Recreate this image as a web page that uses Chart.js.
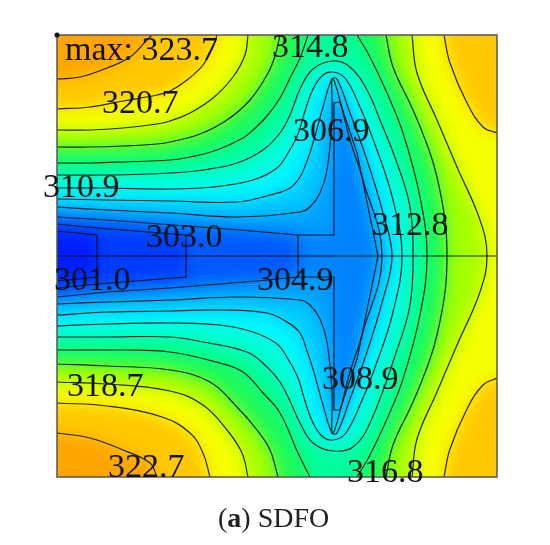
<!DOCTYPE html>
<html><head><meta charset="utf-8">
<style>html,body{margin:0;padding:0;background:#fff}canvas{display:block}</style>
<script src="https://cdn.jsdelivr.net/npm/chart.js@4/dist/chart.umd.min.js"></script>
</head><body><canvas id="c" width="550" height="545"></canvas>
<script>
// Temperature contour levels ([x, y] in plot units, centre line y=0)
const c3227ul=[[0,177],[23,179],[50,188],[73,199],[90,216],[95,221]];
const c3227ll=[[100,-221],[93,-207],[66,-194],[33,-182],[0,-177]];
const c3207ul=[[0,147],[33,149],[66,155],[100,161],[113,165],[130,176],[146,191],[156,209],[160,221]];
const c3207ur=[[387,221],[393,193],[410,153],[426,129],[440,123]];
const c3207lr=[[440,-122],[426,-129],[410,-153],[393,-193],[387,-221]];
const c3207ll=[[153,-221],[146,-197],[133,-177],[105,-161],[50,-150],[0,-147]];
const c3187ul=[[0,126],[33,126],[66,128],[100,132],[113,135],[133,143],[156,158],[176,179],[188,201],[191,221]];
const c3187r=[[355,221],[360,183],[380,136],[400,89],[423,36],[430,0],[423,-36],[400,-89],[380,-136],[360,-183],[355,-221]];
const c3187ll=[[191,-221],[185,-197],[170,-174],[146,-149],[113,-135],[50,-128],[0,-126]];
const c3168ul=[[0,109],[33,109],[66,110],[100,112],[113,114],[143,122],[170,136],[193,156],[210,181],[218,200],[223,221]];
const c3168r=[[329,221],[336,189],[356,146],[372,106],[380,79],[388,36],[390,0],[388,-36],[380,-79],[372,-106],[356,-146],[336,-189],[329,-221]];
const c3168ll=[[221,-221],[213,-194],[200,-174],[180,-151],[153,-126],[113,-114],[50,-110],[0,-108]];
const c3148ul=[[0,93],[33,93],[66,94],[113,96],[133,99],[160,106],[186,118],[196,126],[210,140],[223,158],[233,178],[243,198],[251,221]];
const c3148r=[[300,221],[313,199],[330,163],[346,123],[363,59],[370,0],[363,-59],[346,-123],[330,-163],[313,-199],[300,-221]];
const c3148ll=[[253,-221],[241,-197],[223,-157],[206,-137],[186,-116],[163,-107],[113,-96],[66,-94],[0,-94]];
const c3128=[[0,81],[50,81],[113,83],[146,86],[180,93],[206,106],[223,123],[233,141],[243,167],[256,187],[276,195],[293,189],[310,166],[323,136],[340,93],[353,49],[356,0],[353,-49],[340,-94],[313,-167],[296,-191],[276,-195],[256,-187],[243,-167],[233,-145],[223,-126],[210,-111],[190,-96],[146,-86],[113,-81],[50,-81],[0,-81]];
const c3109=[[0,68],[50,68],[113,67],[156,69],[196,76],[220,88],[231,103],[241,122],[248,145],[256,167],[266,181],[276,184],[288,178],[303,149],[320,106],[336,56],[345,0],[336,-56],[320,-106],[303,-149],[288,-178],[276,-184],[266,-181],[256,-167],[248,-145],[241,-122],[231,-103],[220,-88],[196,-76],[163,-69],[113,-67],[50,-68],[0,-70]];
const c3089=[[0,57],[50,56],[113,55],[180,54],[213,61],[233,68],[243,79],[250,95],[256,113],[266,149],[275,177],[280,177],[293,143],[310,96],[326,43],[335,0],[326,-43],[310,-96],[293,-143],[280,-177],[275,-177],[266,-149],[256,-113],[250,-95],[243,-77],[230,-66],[210,-57],[163,-54],[113,-55],[50,-56],[0,-59]];
const c3069=[[0,49],[50,46],[113,43],[180,39],[243,44],[253,49],[263,63],[270,86],[275,136],[276,177],[293,116],[306,76],[325,0],[306,-76],[293,-116],[276,-177],[275,-136],[270,-86],[263,-63],[253,-49],[243,-44],[180,-41],[113,-44],[50,-46],[0,-48]];
const c3049=[[0,39],[50,36],[116,31],[183,26],[240,21],[277,21],[277,153],[283,154],[300,103],[321,0],[300,-103],[283,-154],[277,-154],[277,-21],[240,-21],[200,-25],[113,-32],[50,-36],[0,-41]];
const c3040=[[0,39],[50,36],[116,31],[183,26],[241,21],[241,-21],[200,-25],[113,-32],[50,-36],[0,-41]];
const c3030=[[0,32],[40,28],[129,21],[129,-21],[40,-28],[0,-32]];
const c3010=[[0,25],[40,21],[40,-21],[0,-25]];
const frameBox=[[0,221],[440,221],[440,-221],[0,-221],[0,221]];
const rightCorners=[[440,221],[440,-221]];
const meshCentre=[[0,0],[440,0]];
const meshStep=[[241,21],[241,-21]];
const cornerDot=[[0,221]];

// Band colours: fill of the region colder than each level
const cOuter='rgb(255,165,0)';
const bandColours={b3227:'rgb(255,200,0)',b3207:'rgb(245,255,0)',b3187:'rgb(165,255,0)',b3168:'rgb(30,250,90)',b3148:'rgb(0,255,155)',b3128:'rgb(0,255,215)',b3109:'rgb(0,245,255)',b3089:'rgb(0,200,255)',b3069:'rgb(0,160,255)',b3049:'rgb(0,130,255)',b3040:'rgb(0,90,255)',b3030:'rgb(0,60,255)',b3010:'rgb(0,30,255)'};

// Label text and anchor positions
const labelTexts=['max: 323.7','320.7','310.9','303.0','301.0','304.9','314.8','306.9','312.8','308.9','318.7','322.7','316.8'];
const labelX=[8,45,-14,89,-3,200,215,236,315,265,10,51,290];
const labelY=[196,143,59,9,-34,-34,199,115,21,-133,-140,-221,-226];

const toPts=a=>a.map(p=>({x:p[0],y:p[1]}));
const bandPolys=[
 [[...c3010],bandColours.b3010],
 [[...c3030],bandColours.b3030],
 [[...c3040],bandColours.b3040],
 [[...c3049],bandColours.b3049],
 [[...c3069],bandColours.b3069],
 [[...c3089],bandColours.b3089],
 [[...c3109],bandColours.b3109],
 [[...c3128],bandColours.b3128],
 [[...c3148ul,...c3148r,...c3148ll],bandColours.b3148],
 [[...c3168ul,...c3168r,...c3168ll],bandColours.b3168],
 [[...c3187ul,...c3187r,...c3187ll],bandColours.b3187],
 [[...c3207ul,...c3207ur,...c3207lr,...c3207ll],bandColours.b3207],
 [[...c3227ul,...rightCorners,...c3227ll],bandColours.b3227],
 [frameBox,cOuter]
];
const smoothLines=[c3227ul,c3227ll,c3207ul,c3207ur,c3207lr,c3207ll,c3187ul,c3187r,c3187ll,c3168ul,c3168r,c3168ll,c3148ul,c3148r,c3148ll,c3128,c3109,c3089,c3069];
const stiffLines=[c3049,c3030,c3010,meshCentre,meshStep];

const lineDs=(a,t)=>({data:toPts(a),showLine:true,borderColor:'rgba(10,10,10,0.88)',borderWidth:1.2,pointRadius:0,tension:t,fill:false});
const datasets=[
 {data:toPts(cornerDot),pointRadius:2.5,backgroundColor:'#111',borderWidth:0,clip:false,showLine:false},
 {data:toPts(frameBox),showLine:true,borderColor:'#555',borderWidth:1.5,pointRadius:0,fill:false,clip:false,tension:0},
 ...smoothLines.map(a=>lineDs(a,0.4)),
 ...stiffLines.map(a=>lineDs(a,0))
];
const firstBand=datasets.length;
bandPolys.forEach(([a,col])=>datasets.push({data:toPts(a),showLine:true,borderWidth:0,borderColor:'transparent',backgroundColor:col,fill:'shape',pointRadius:0,tension:0}));

const BLUR=8;
const blurPlugin={id:'blurBands',afterDatasetDraw(chart,args){
  if(args.index!==firstBand)return;
  const {left,top,width,height}=chart.chartArea,m=BLUR*4,cv=chart.canvas,ctx=chart.ctx;
  const t=document.createElement('canvas');t.width=width+2*m;t.height=height+2*m;
  const g=t.getContext('2d');
  g.drawImage(cv,left,top,width,1,m,0,width,m);
  g.drawImage(cv,left,top+height-1,width,1,m,m+height,width,m);
  g.drawImage(cv,left,top,1,height,0,m,m,height);
  g.drawImage(cv,left+width-1,top,1,height,m+width,m,m,height);
  g.drawImage(cv,left,top,width,height,m,m,width,height);
  ctx.save();ctx.beginPath();ctx.rect(left,top,width,height);ctx.clip();
  ctx.filter='blur('+BLUR+'px)';ctx.drawImage(t,left-m,top-m);ctx.restore();
}};
const labelPlugin={id:'labels',afterDatasetsDraw(chart){
  const ctx=chart.ctx,xs=chart.scales.x,ys=chart.scales.y;
  ctx.save();ctx.fillStyle='#111';ctx.textBaseline='alphabetic';ctx.textAlign='left';
  ctx.font='34px "Liberation Serif"';
  labelTexts.forEach((t,i)=>ctx.fillText(t,xs.getPixelForValue(labelX[i]),ys.getPixelForValue(labelY[i])));
  ctx.fillStyle='#222';
  let x=218;const y=527;
  [['(','28px "Liberation Serif"'],['a','bold 28px "Liberation Serif"'],[') SDFO','28px "Liberation Serif"']].forEach(([s,f])=>{ctx.font=f;ctx.fillText(s,x,y);x+=ctx.measureText(s).width;});
  ctx.restore();
}};
new Chart(document.getElementById('c'),{type:'scatter',data:{datasets},plugins:[blurPlugin,labelPlugin],options:{
 responsive:false,animation:false,events:[],
 layout:{padding:{left:57,top:35,right:53,bottom:68}},
 plugins:{legend:{display:false},tooltip:{enabled:false},title:{display:false}},
 scales:{x:{type:'linear',display:false,min:0,max:440},y:{type:'linear',display:false,min:-221,max:221}}
}});
</script></body></html>
